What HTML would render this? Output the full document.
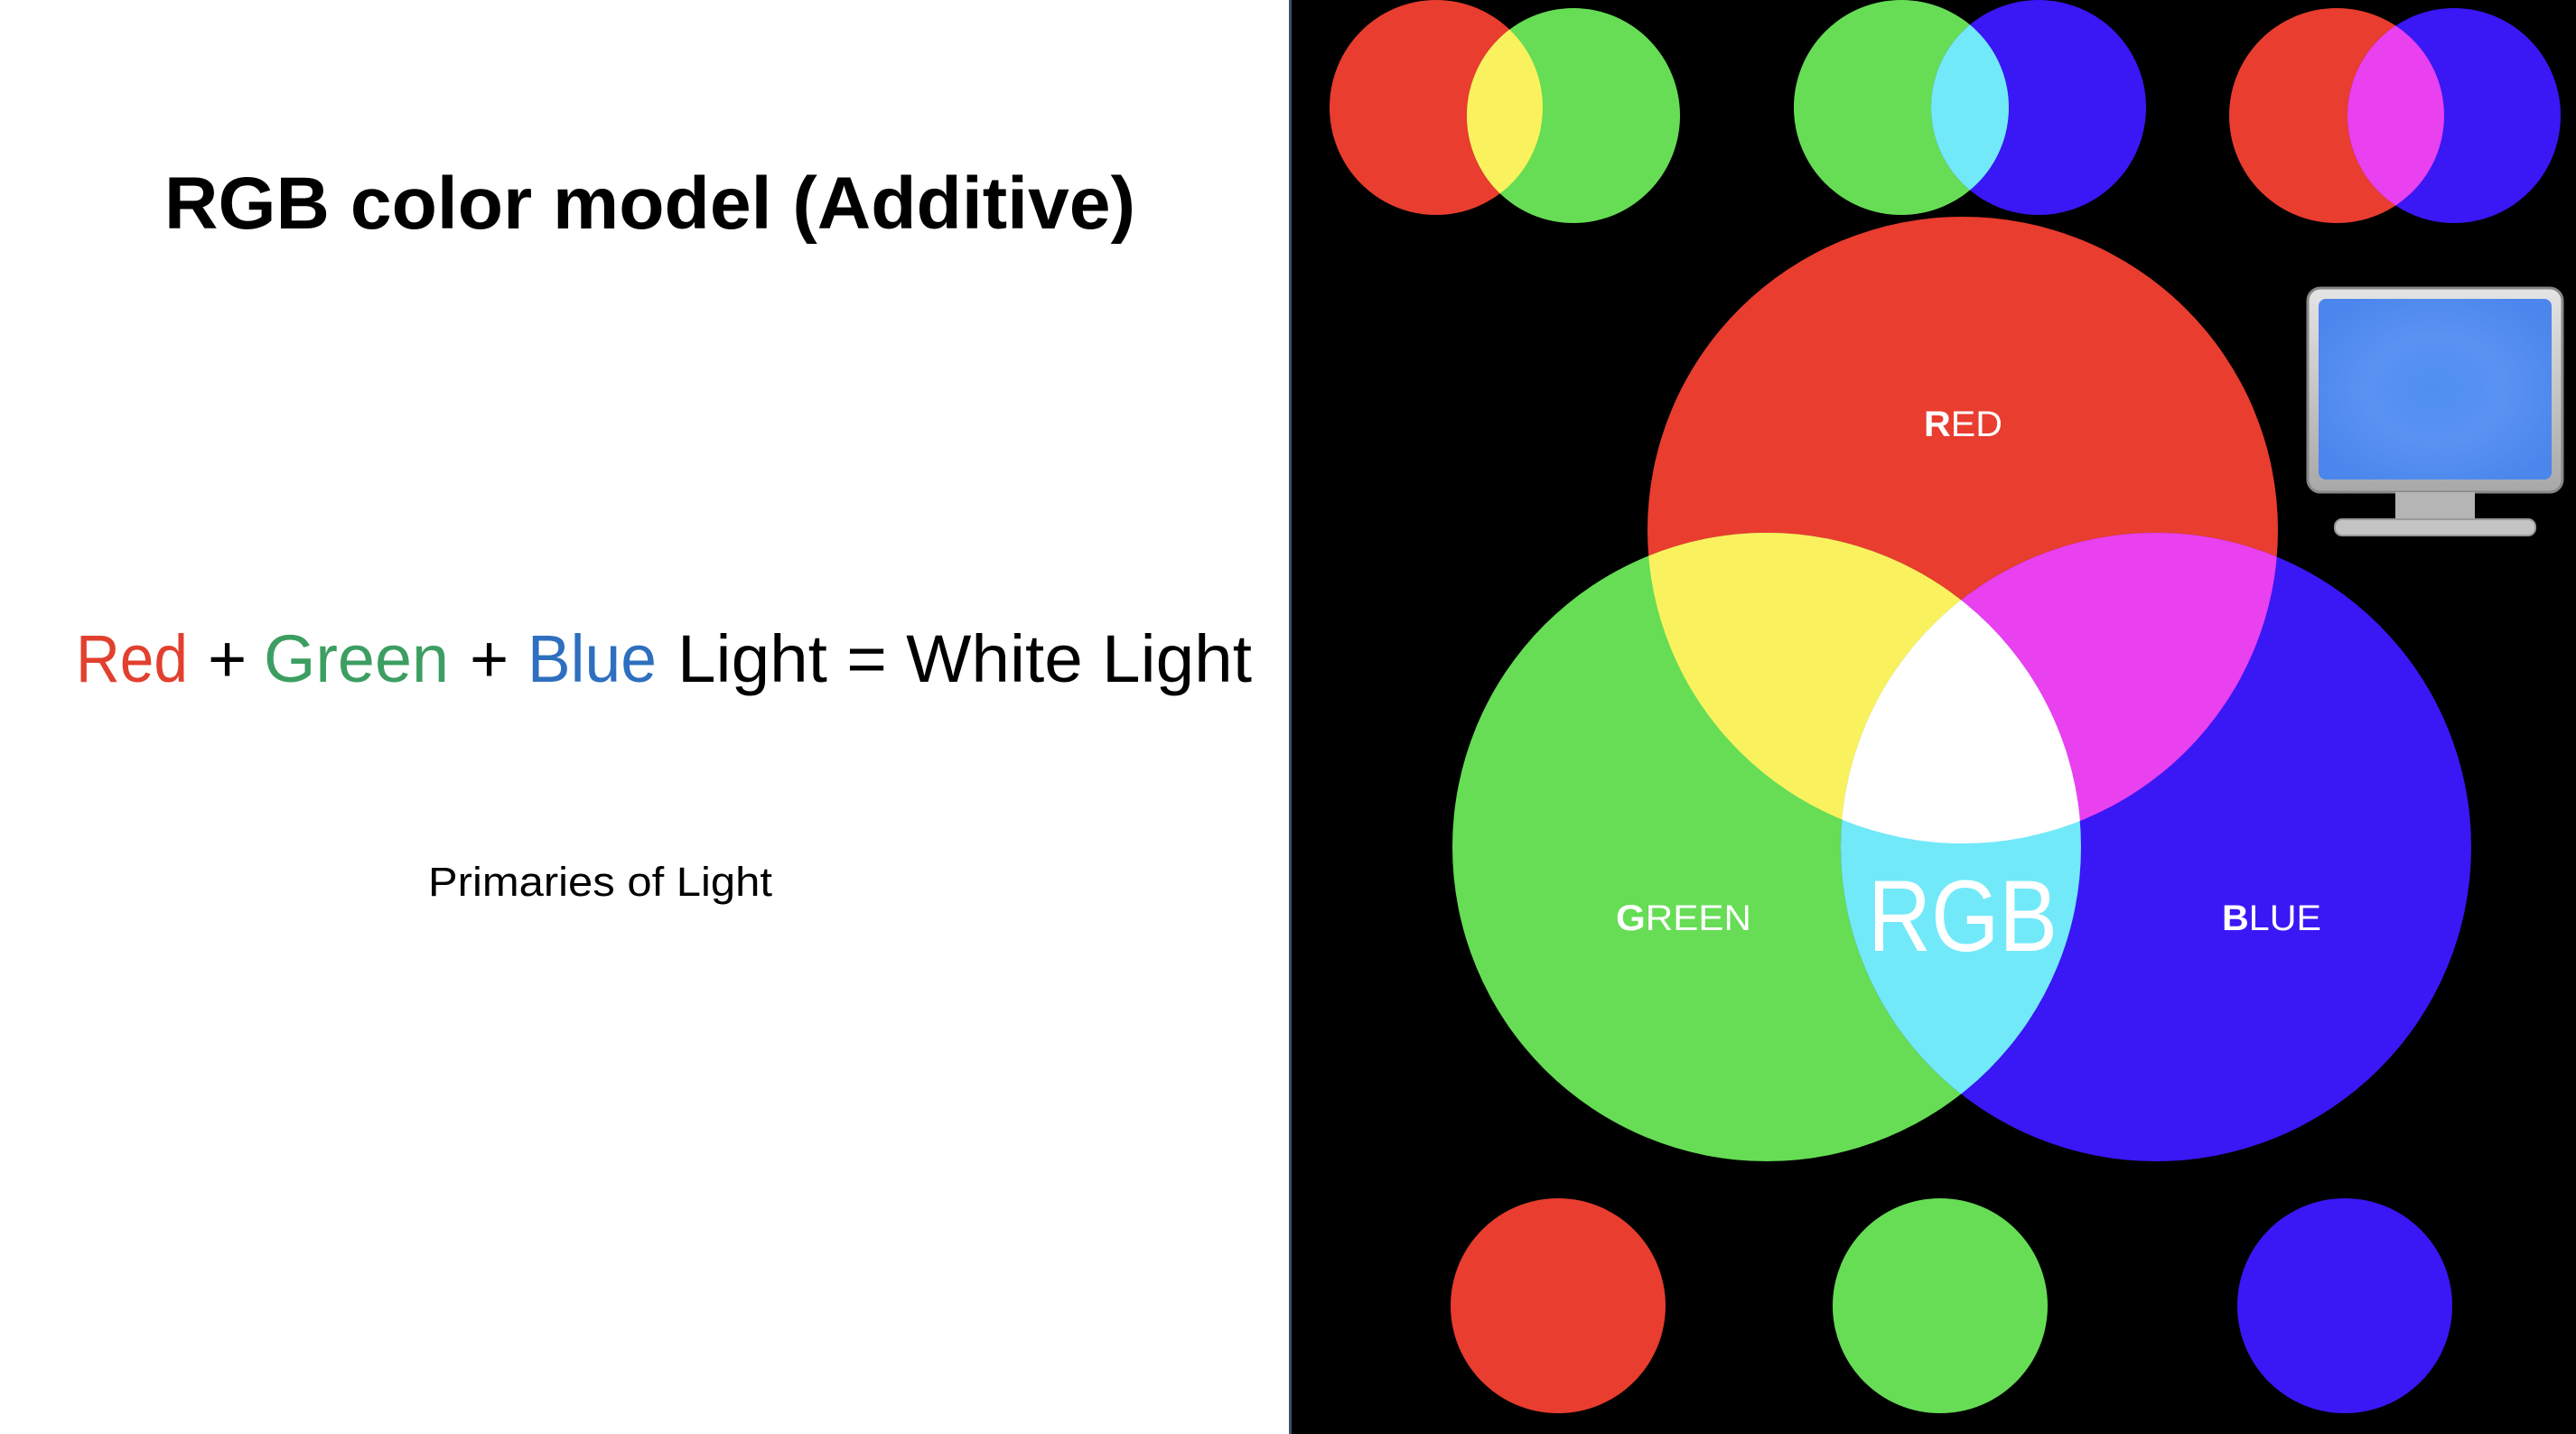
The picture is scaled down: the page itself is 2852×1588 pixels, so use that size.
<!DOCTYPE html>
<html><head><meta charset="utf-8"><style>html,body{margin:0;padding:0;background:#fff;}svg{display:block}</style></head>
<body>
<svg width="2852" height="1588" viewBox="0 0 2852 1588" xmlns="http://www.w3.org/2000/svg" font-family="'Liberation Sans', sans-serif">
<defs>
<clipPath id="cR"><ellipse cx="2173" cy="587" rx="349" ry="347"/></clipPath>
<clipPath id="cG"><ellipse cx="1956" cy="938" rx="348" ry="348"/></clipPath>
<clipPath id="t1"><ellipse cx="1590" cy="119" rx="118" ry="119"/></clipPath>
<clipPath id="t2"><ellipse cx="2105" cy="119" rx="119" ry="119"/></clipPath>
<clipPath id="t3"><ellipse cx="2587" cy="128" rx="119" ry="119"/></clipPath>
<radialGradient id="scr" cx="0.5" cy="0.5" r="0.6"><stop offset="0" stop-color="#4f8ff0"/><stop offset="0.5" stop-color="#5a92f2"/><stop offset="1" stop-color="#4a86ec"/></radialGradient>
<linearGradient id="frame" x1="0" y1="0" x2="0" y2="1"><stop offset="0" stop-color="#e4e4e4"/><stop offset="1" stop-color="#a8a8a8"/></linearGradient>
</defs>
<rect x="0" y="0" width="1428" height="1588" fill="#fff"/>
<text x="182" y="253" font-size="82" font-weight="bold" textLength="1075" lengthAdjust="spacingAndGlyphs">RGB color model (Additive)</text>
<text y="755" font-size="74">
<tspan x="84" fill="#e2402e" textLength="124" lengthAdjust="spacingAndGlyphs">Red</tspan><tspan x="230" fill="#000">+</tspan><tspan x="292" fill="#3d9e62" textLength="205" lengthAdjust="spacingAndGlyphs">Green</tspan><tspan x="520" fill="#000">+</tspan><tspan x="584" fill="#2e6fbf" textLength="143" lengthAdjust="spacingAndGlyphs">Blue</tspan><tspan x="750" fill="#000" textLength="636" lengthAdjust="spacingAndGlyphs">Light = White Light</tspan></text>
<text x="474" y="992" font-size="45" textLength="381" lengthAdjust="spacingAndGlyphs">Primaries of Light</text>
<rect x="1428" y="0" width="1424" height="1588" fill="#000"/>
<rect x="1427" y="0" width="3" height="1588" fill="#3c4f6a"/>
<g>
<ellipse cx="1590" cy="119" rx="118" ry="119" fill="#e83d2f"/>
<ellipse cx="1742" cy="128" rx="118" ry="119" fill="#66dd55"/>
<ellipse cx="1742" cy="128" rx="118" ry="119" fill="#f9f25e" clip-path="url(#t1)"/>
<ellipse cx="2105" cy="119" rx="119" ry="119" fill="#66dd55"/>
<ellipse cx="2257" cy="119" rx="119" ry="119" fill="#3a17f5"/>
<ellipse cx="2257" cy="119" rx="119" ry="119" fill="#72e9f9" clip-path="url(#t2)"/>
<ellipse cx="2587" cy="128" rx="119" ry="119" fill="#e83d2f"/>
<ellipse cx="2717" cy="128" rx="118" ry="119" fill="#3a17f5"/>
<ellipse cx="2717" cy="128" rx="118" ry="119" fill="#e940f0" clip-path="url(#t3)"/>
</g>
<g>
<ellipse cx="2173" cy="587" rx="349" ry="347" fill="#e83d2f"/>
<ellipse cx="1956" cy="938" rx="348" ry="348" fill="#66dd55"/>
<ellipse cx="2387" cy="938" rx="349" ry="348" fill="#3a17f5"/>
<ellipse cx="1956" cy="938" rx="348" ry="348" fill="#f9f25e" clip-path="url(#cR)"/>
<ellipse cx="2387" cy="938" rx="349" ry="348" fill="#e940f0" clip-path="url(#cR)"/>
<ellipse cx="2387" cy="938" rx="349" ry="348" fill="#72e9f9" clip-path="url(#cG)"/>
<g clip-path="url(#cR)"><ellipse cx="2387" cy="938" rx="349" ry="348" fill="#fff" clip-path="url(#cG)"/></g>
<text x="2130" y="483" font-size="40" fill="#fff" textLength="87" lengthAdjust="spacingAndGlyphs"><tspan font-weight="bold">R</tspan>ED</text>
<text x="1789" y="1030" font-size="40" fill="#fff" textLength="150" lengthAdjust="spacingAndGlyphs"><tspan font-weight="bold">G</tspan>REEN</text>
<text x="2460" y="1030" font-size="40" fill="#fff" textLength="110" lengthAdjust="spacingAndGlyphs"><tspan font-weight="bold">B</tspan>LUE</text>
<text x="2068" y="1053" font-size="112" fill="#fff" textLength="210" lengthAdjust="spacingAndGlyphs">RGB</text>
</g>
<g>
<rect x="2555" y="319" width="282" height="226" rx="14" fill="url(#frame)" stroke="#888" stroke-width="3"/>
<rect x="2567" y="331" width="258" height="200" rx="8" fill="url(#scr)"/>
<rect x="2652" y="545" width="88" height="32" fill="#b5b5b5"/>
<rect x="2585" y="575" width="222" height="18" rx="8" fill="#c4c4c4" stroke="#999" stroke-width="2"/>
</g>
<ellipse cx="1725" cy="1446" rx="119" ry="119" fill="#e83d2f"/>
<ellipse cx="2148" cy="1446" rx="119" ry="119" fill="#66dd55"/>
<ellipse cx="2596" cy="1446" rx="119" ry="119" fill="#3a17f5"/>
</svg>
</body></html>
